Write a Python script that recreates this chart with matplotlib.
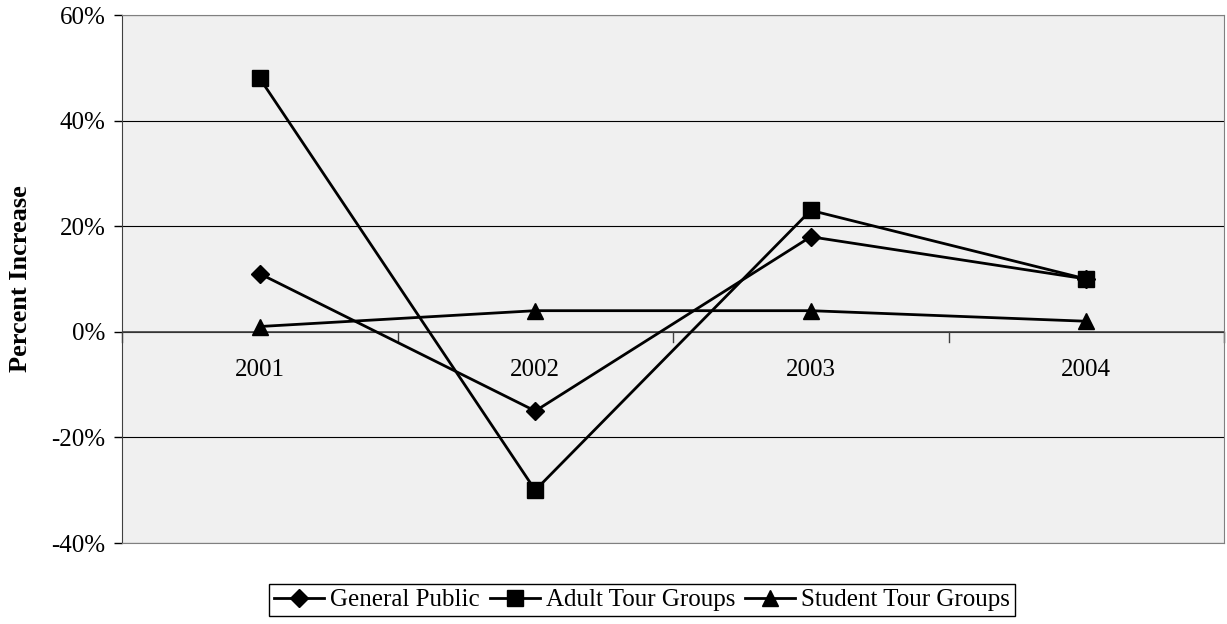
import matplotlib
matplotlib.use("Agg")
import matplotlib.pyplot as plt
from matplotlib.ticker import FuncFormatter, FixedLocator, NullFormatter

years = ["2001", "2002", "2003", "2004"]
general_public = [11, -15, 18, 10]
adult_tours = [48, -30, 23, 10]
student_tours = [1, 4, 4, 2]
y_ticks = [-40, -20, 0, 20, 40, 60]

plt.rcParams["font.family"] = ["Liberation Serif", "DejaVu Serif"]
plt.rcParams["font.size"] = 18

fig = plt.figure(figsize=(12.27, 6.24), dpi=100)
ax = fig.add_axes([122 / 1227, 1 - 543 / 624, (1224 - 122) / 1227, (543 - 15) / 624])
ax.set_facecolor("#f0f0f0")

x = list(range(len(years)))
ax.plot(x, general_public, color="black", lw=2, marker="D", ms=9, label="General Public")
ax.plot(x, adult_tours, color="black", lw=2, marker="s", ms=11, label="Adult Tour Groups")
ax.plot(x, student_tours, color="black", lw=2, marker="^", ms=12, label="Student Tour Groups")

ax.set_xlim(-0.5, len(years) - 0.5)
ax.set_ylim(y_ticks[0], y_ticks[-1])
ax.set_yticks(y_ticks)
ax.yaxis.set_major_formatter(FuncFormatter(lambda v, p: f"{v:.0f}%"))
ax.yaxis.grid(True, color="black", lw=0.8)
ax.set_axisbelow(True)
ax.tick_params(axis="y", direction="out", length=6, width=1, pad=6, labelsize=18)

# Category axis sits on the zero line; ticks mark category boundaries
for s in ["top", "right", "bottom"]:
    ax.spines[s].set_color("#808080")
ax.spines["left"].set_color("#404040")
ax.xaxis.set_major_locator(FixedLocator([i - 0.5 for i in range(len(years) + 1)]))
ax.xaxis.set_major_formatter(NullFormatter())
ax.tick_params(axis="x", direction="out", length=0)
ax.axhline(0, color="#404040", lw=1.2, zorder=1.5)
for i in range(len(years) + 1):
    ax.plot([i - 0.5, i - 0.5], [0, -2], color="#404040", lw=1, zorder=1.5, clip_on=False)
for i, yr in enumerate(years):
    ax.text(i, -7.2, yr, ha="center", va="center", fontsize=18)

ax.set_ylabel("Percent Increase", fontsize=19, fontweight="bold", labelpad=14)

leg = fig.legend(loc="center", bbox_to_anchor=(642 / 1227, 1 - 600 / 624), ncol=3,
                 frameon=True, fancybox=False, edgecolor="black", framealpha=1,
                 handlelength=2.0, columnspacing=0.4, handletextpad=0.25,
                 borderpad=0.2, borderaxespad=0, fontsize=18)
leg.get_frame().set_linewidth(1)

fig.savefig("out.png", dpi=100, facecolor="white")
